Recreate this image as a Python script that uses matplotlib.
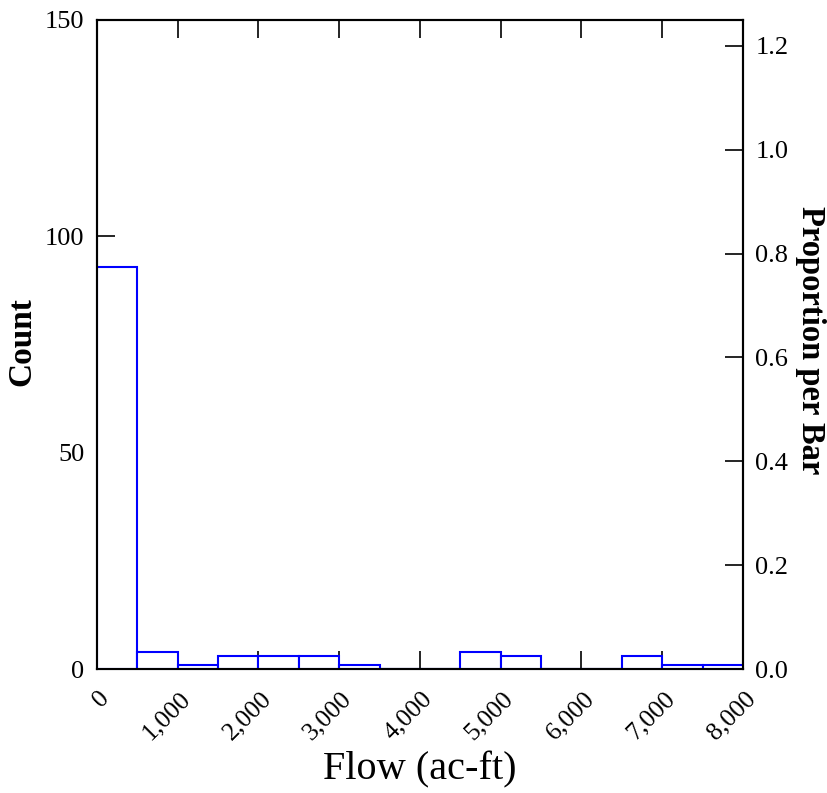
import numpy as np
import matplotlib.pyplot as plt
from matplotlib.ticker import FuncFormatter
from matplotlib.transforms import ScaledTranslation

# histogram bins (ac-ft) and counts
bin_edges = [0, 500, 1000, 1500, 2000, 2500, 3000, 3500, 4000, 4500,
             5000, 5500, 6000, 6500, 7000, 7500, 8000]
counts = [93, 4, 1, 3, 3, 3, 1, 0, 0, 4, 3, 0, 0, 3, 1, 1]
x_ticks = [0, 1000, 2000, 3000, 4000, 5000, 6000, 7000, 8000]
count_ticks = [0, 50, 100, 150]
prop_ticks = [0.0, 0.2, 0.4, 0.6, 0.8, 1.0, 1.2]

plt.rcParams['font.family'] = ['Liberation Serif', 'DejaVu Serif']

W, H = 828, 793
fig = plt.figure(figsize=(W / 100, H / 100), dpi=100)
ax = fig.add_axes([97 / W, 1 - 669 / H, 646 / W, 649 / H])

edges = np.array(bin_edges)
ax.bar(edges[:-1], counts, width=np.diff(edges), align='edge',
       facecolor='white', edgecolor='#0000ff', linewidth=1.5, zorder=3)

ax.set_xlim(0, 8000)
ax.set_ylim(0, 150)
ax.set_xticks(x_ticks)
ax.xaxis.set_major_formatter(FuncFormatter(lambda v, p: f'{int(v):,}'))
ax.set_yticks(count_ticks)
ax.tick_params(direction='in', length=13, width=1.2, top=True)
ax.tick_params(axis='x', pad=13, labelsize=18.5)
ax.tick_params(axis='y', pad=9, labelsize=19)

# rotated x labels shifted right so their end sits past the tick
shift = ScaledTranslation(17 / 100, 0, fig.dpi_scale_trans)
for lbl in ax.get_xticklabels():
    lbl.set_rotation(45)
    lbl.set_ha('right')
    lbl.set_va('top')
    lbl.set_transform(lbl.get_transform() + shift)

total = sum(counts)
ax2 = ax.twinx()
ax2.set_ylim(0, 150 / total)
ax2.set_yticks(prop_ticks)
ax2.yaxis.set_major_formatter(FuncFormatter(lambda v, p: f'{v:.1f}'))
ax2.tick_params(direction='in', length=13, width=1.2, labelsize=19, pad=9)

for a in (ax, ax2):
    for s in a.spines.values():
        s.set_linewidth(1.5)

fig.text(22 / W, 1 - 342 / H, 'Count', rotation=90, fontsize=24,
         fontweight='bold', ha='center', va='center')
fig.text(811 / W, 1 - 340 / H, 'Proportion per Bar', rotation=-90,
         fontsize=23.5, fontweight='bold', ha='center', va='center')
fig.text(420 / W, 1 - 770 / H, 'Flow (ac-ft)', fontsize=29,
         ha='center', va='center')

fig.savefig('out.png', dpi=100)
